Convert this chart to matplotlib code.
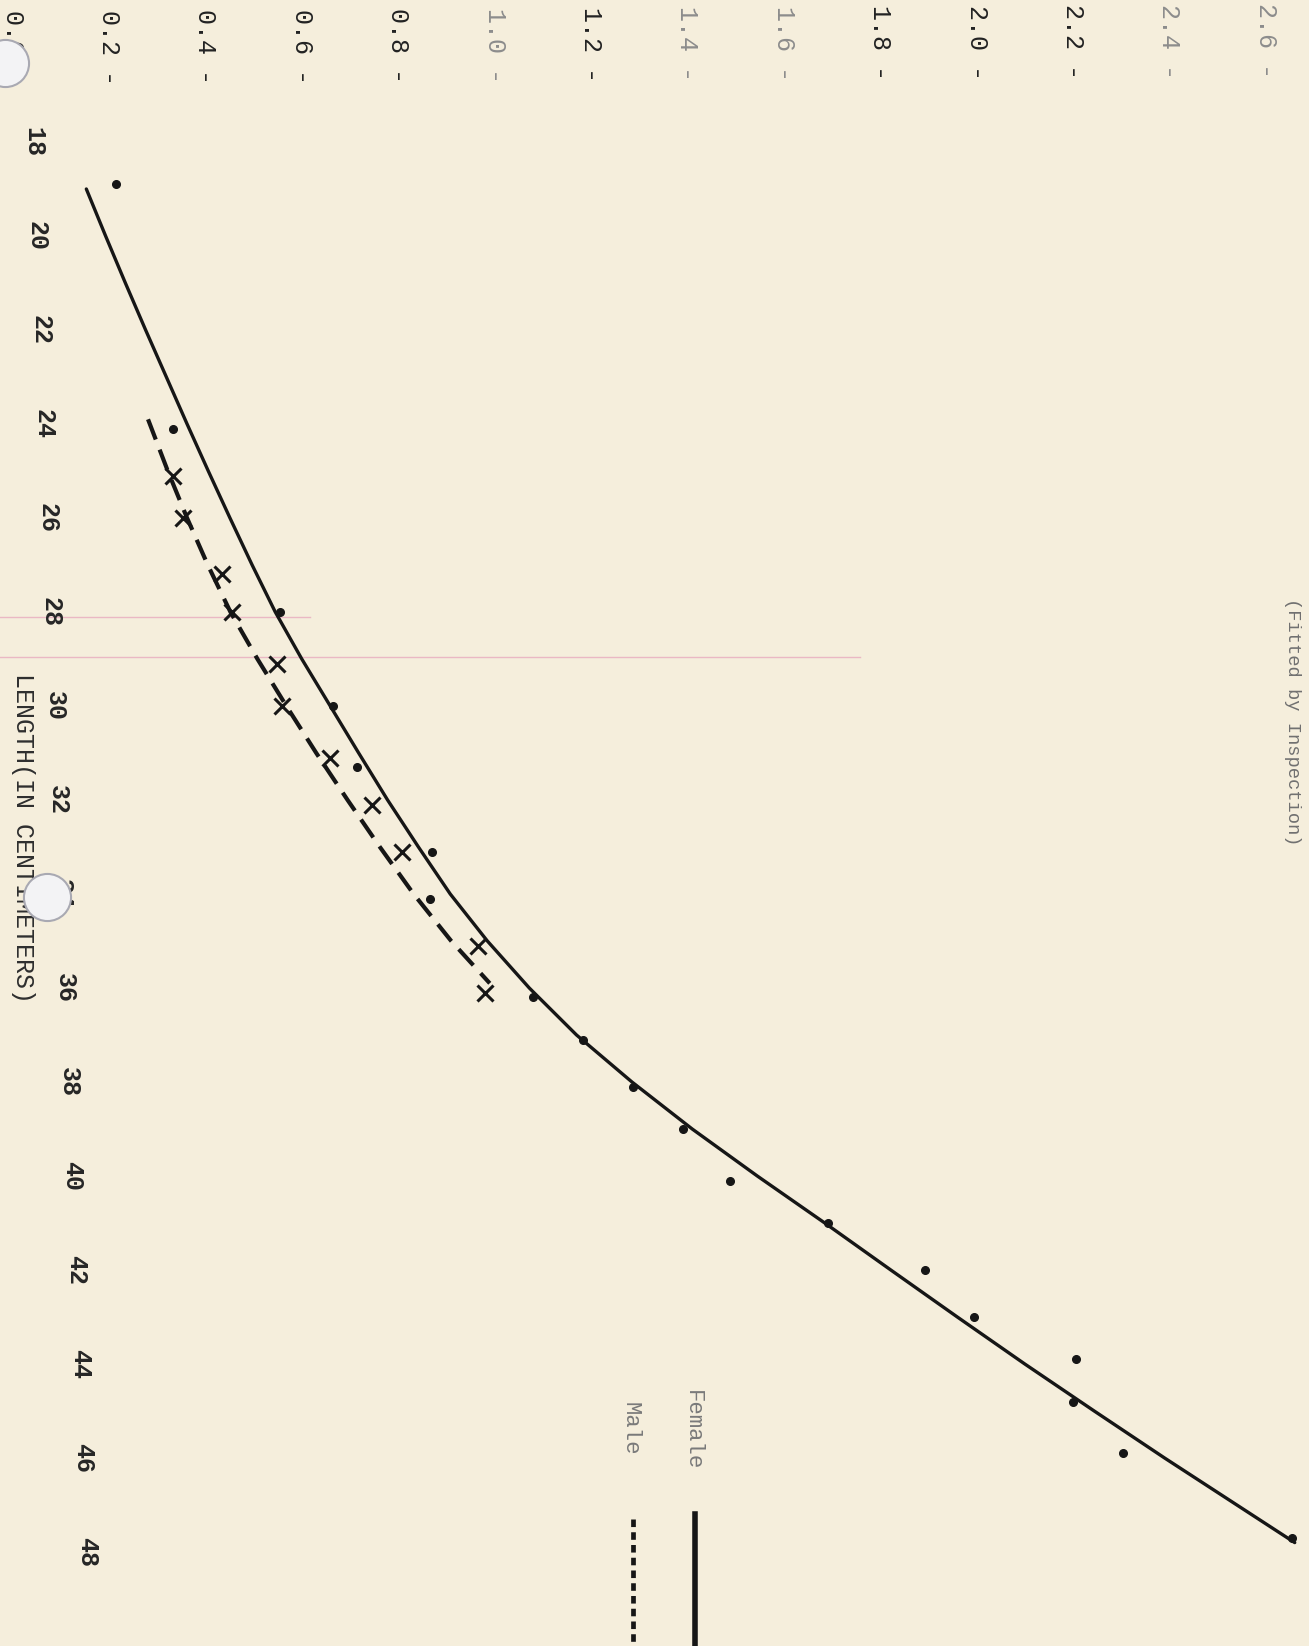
import matplotlib.pyplot as plt

# typed sheet is turned sideways: length runs down the page, weight across it
weight_ticks = [0.0, 0.2, 0.4, 0.6, 0.8, 1.0, 1.2, 1.4, 1.6, 1.8, 2.0, 2.2, 2.4, 2.6]
length_ticks = [18, 20, 22, 24, 26, 28, 30, 32, 34, 36, 38, 40, 42, 44, 46, 48]

# plotted points (length in cm, weight)
female_length = [18.9, 24.1, 28.0, 30.0, 31.3, 33.1, 34.1, 36.2, 37.1, 38.1,
                 39.0, 40.1, 41.0, 42.0, 43.0, 43.9, 44.8, 45.9, 47.7]
female_weight = [0.215, 0.333, 0.555, 0.665, 0.715, 0.870, 0.866, 1.080, 1.183, 1.287,
                 1.391, 1.488, 1.692, 1.893, 1.995, 2.206, 2.200, 2.304, 2.654]

male_length = [25.1, 26.0, 27.2, 28.0, 29.1, 30.0, 31.1, 32.1, 33.1, 35.1, 36.1]
male_weight = [0.333, 0.354, 0.435, 0.455, 0.549, 0.559, 0.659, 0.746, 0.808, 0.966, 0.980]

# curves "fitted by inspection"
female_fit_length = [19, 20, 21, 22, 23, 24, 25, 26, 27, 28, 29, 30, 31, 32, 33,
                     34, 35, 36, 37, 38, 39, 40, 41, 42, 43, 44, 45, 46, 47, 47.8]
female_fit_weight = [0.153, 0.193, 0.234, 0.276, 0.319, 0.362, 0.406, 0.451, 0.497, 0.545,
                     0.600, 0.659, 0.718, 0.778, 0.842, 0.908, 0.985, 1.072, 1.170, 1.285,
                     1.410, 1.545, 1.685, 1.822, 1.960, 2.100, 2.244, 2.390, 2.540, 2.660]

male_fit_length = [23.9, 25, 26, 27, 28, 29, 30, 31, 32, 33, 34, 35, 35.9]
male_fit_weight = [0.281, 0.322, 0.362, 0.405, 0.452, 0.508, 0.568, 0.630, 0.695,
                   0.762, 0.832, 0.910, 0.990]

faded_ticks = [1.0, 1.4, 1.6, 2.4, 2.6]   # labels the ribbon barely printed

paper = '#f5eedc'
ink = '#161616'
mono = 'Liberation Mono'

fig = plt.figure(figsize=(13.09, 16.46), dpi=100)
fig.patch.set_facecolor(paper)
ax = fig.add_axes([0, 0, 1, 1])
ax.set_facecolor(paper)
ax.set_xlim(-0.0261, 2.6896)
ax.set_ylim(50.0, 14.979)
ax.axis('off')

# faint pink rule lines from the paper
ax.axhline(28.11, xmin=0, xmax=0.237, color='#eab8c4', lw=1.0)
ax.axhline(28.95, xmin=0, xmax=0.657, color='#eab8c4', lw=1.0)

# weight labels along the top edge
for w in weight_ticks:
    c = '#8c8c8c' if w in faded_ticks else '#222222'
    ax.text(w, 15.2 - 0.06 * w, '%.1f -' % w, rotation=-90, ha='center', va='top',
            family=mono, fontsize=18, color=c)

# length labels, drifting a little to the right down the page
for L in length_ticks:
    ax.text(0.0423 + (L - 18) * 0.00373, L, str(L), rotation=-90, ha='center',
            va='center', family=mono, fontsize=18, fontweight='bold', color='#262626')

ax.text(0.021, 29.3, 'LENGTH(IN CENTIMETERS)', rotation=-90, ha='center', va='top',
        family=mono, fontsize=18, color='#2e2e2e')
ax.text(2.655, 27.7, '(Fitted by Inspection)', rotation=-90, ha='center', va='top',
        family=mono, fontsize=13.5, color='#707070')

# curves
ax.plot(female_fit_weight, female_fit_length, color=ink, lw=2.4, solid_capstyle='round',
        solid_joinstyle='round')
ax.plot(male_fit_weight, male_fit_length, color=ink, lw=3.0, dashes=(5.2, 2.6))

# points
ax.plot(female_weight, female_length, 'o', color=ink, ms=5.5, zorder=4)
ax.plot(male_weight, male_length, 'x', color=ink, ms=11, mew=2.2, zorder=4)

# key, typed on its side at the bottom
ax.text(1.41, 44.55, 'Female', rotation=-90, ha='center', va='top',
        family=mono, fontsize=16, color='#7a7a7a')
ax.text(1.281, 44.8, 'Male', rotation=-90, ha='center', va='top',
        family=mono, fontsize=16, color='#7a7a7a')
ax.plot([1.416, 1.416], [47.2, 50.0], color=ink, lw=4)
ax.plot([1.287, 1.287], [47.3, 50.0], color=ink, lw=3.4, dashes=(1.6, 1.1))

# binder holes from the scan
ax.scatter([-0.016, 0.071], [16.32, 34.06], s=1150, c='#f3f3f5',
           edgecolors='#a9a9b2', linewidths=1.5, zorder=6)

fig.savefig('out.png', dpi=100, facecolor=paper)
